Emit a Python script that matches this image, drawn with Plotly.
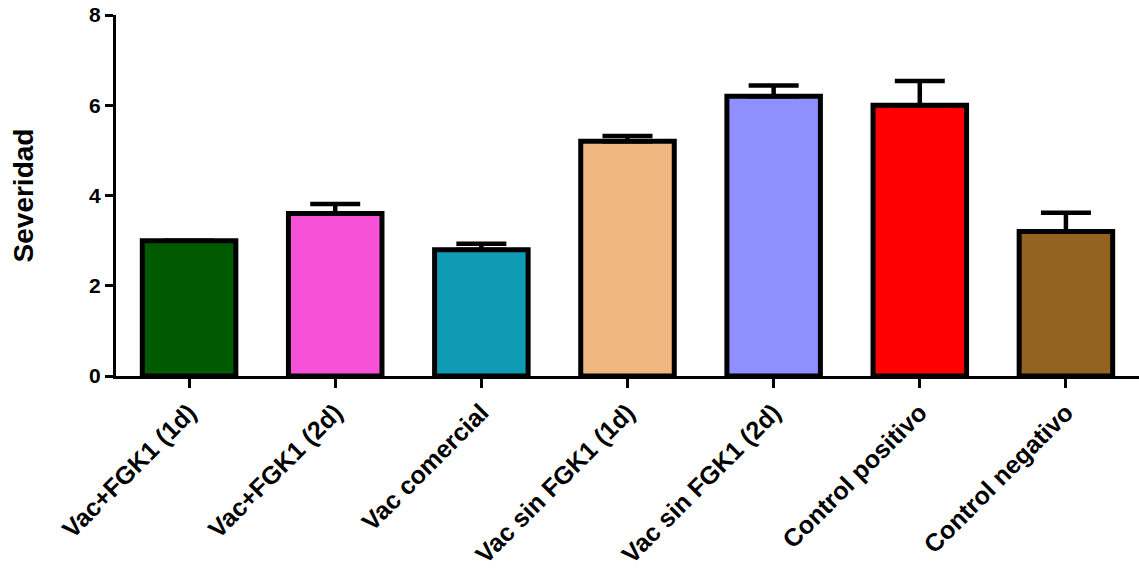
import plotly.graph_objects as go

categories = ["Vac+FGK1 (1d)", "Vac+FGK1 (2d)", "Vac comercial", "Vac sin FGK1 (1d)",
              "Vac sin FGK1 (2d)", "Control positivo", "Control negativo"]
values = [3.0, 3.6, 2.8, 5.2, 6.2, 6.0, 3.2]
errors = [0.0, 0.21, 0.13, 0.12, 0.24, 0.54, 0.42]
colors = ["#005a00", "#f751d8", "#109bb5", "#f0b880", "#8f8fff", "#ff0000", "#946321"]
y_ticks = [0, 2, 4, 6, 8]

fig = go.Figure()
fig.add_trace(go.Bar(
    x=categories, y=values,
    marker=dict(color=colors, line=dict(color="black", width=5)),
    width=0.64,
    error_y=dict(type="data", array=errors, arrayminus=[0] * len(errors), symmetric=False,
                 color="black", thickness=4.5, width=25, visible=True),
))

fig.update_layout(
    width=1139, height=575,
    margin=dict(l=116, r=0, t=15, b=199),
    plot_bgcolor="white", paper_bgcolor="white",
    showlegend=False,
    font=dict(family="Liberation Sans, Arial", color="black"),
)
fig.update_xaxes(
    range=[-0.5, 6.5], showline=True, linecolor="black", linewidth=3,
    ticks="outside", ticklen=9, tickwidth=3, tickcolor="black",
    tickangle=-45, tickfont=dict(size=25, family="Liberation Sans", color="black", weight="bold"),
    showgrid=False, zeroline=False, automargin=False,
)
fig.update_yaxes(
    range=[0, 8], tickvals=y_ticks, showline=True, linecolor="black", linewidth=3,
    ticks="outside", ticklen=8, tickwidth=3, tickcolor="black",
    tickfont=dict(size=21, family="Liberation Sans", color="black", weight="bold"),
    title=dict(text="<b>Severidad</b>", font=dict(size=28, family="Liberation Sans", color="black"), standoff=48),
    showgrid=False, zeroline=False, automargin=False,
)
fig.write_html("out.html", config={"displayModeBar": False},
               post_script="document.body.style.margin='0';document.body.style.overflow='hidden';")
